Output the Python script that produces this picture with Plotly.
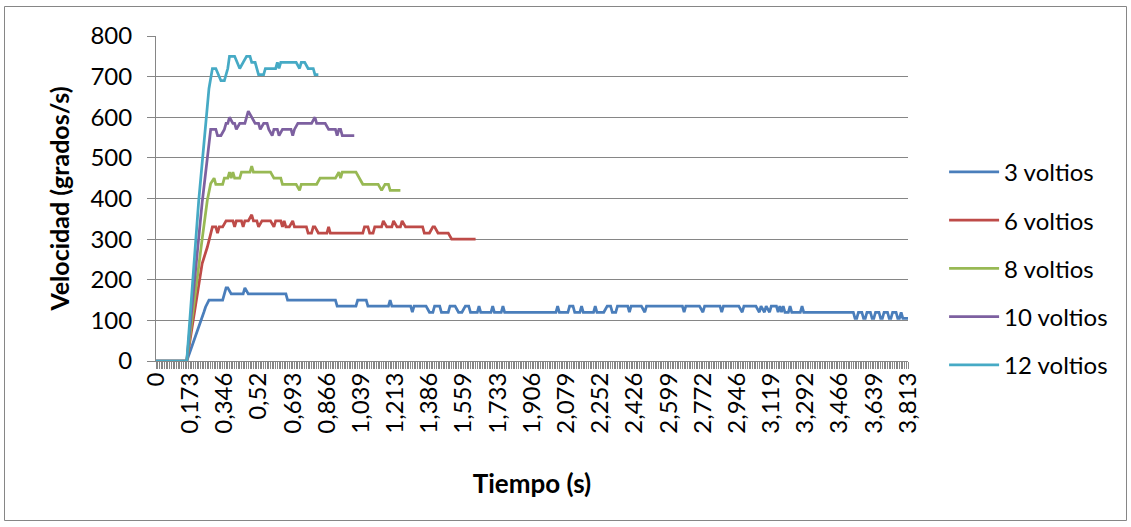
import plotly.graph_objects as go

# Sample number (one sample every ~8.67 ms) and angular speed in grados/s.
# Each series is given by the samples where its trace changes direction.
muestra_3v = [0, 18, 28, 29, 31, 39, 41, 42, 44, 51, 52, 54, 76, 77, 105, 106, 117, 118, 123, 124,
              136, 137, 138, 149, 150, 151, 158, 160, 162, 163, 166, 167, 171, 172, 175, 177, 179, 181,
              183, 184, 188, 189, 190, 196, 197, 198, 202, 203, 204, 234, 235, 236, 241, 242, 244, 245,
              248, 249, 250, 256, 257, 258, 262, 264, 266, 267, 269, 270, 276, 277, 278, 284, 286, 287,
              308, 309, 310, 318, 320, 321, 330, 331, 332, 341, 343, 344, 351, 353, 354, 356, 357, 359,
              360, 363, 364, 365, 366, 367, 368, 370, 371, 372, 377, 378, 379, 408, 409, 410, 411, 413,
              414, 415, 416, 418, 419, 420, 421, 423, 424, 425, 426, 428, 429, 430, 431, 433, 434, 435,
              436, 437, 440]
vel_3v = [0, 0, 120, 133, 150, 150, 180, 180, 165, 165, 180, 165, 165, 150, 150, 135, 135, 150, 150, 135,
          135, 150, 135, 135, 120, 135, 135, 120, 120, 135, 135, 120, 120, 135, 135, 120, 120, 135,
          135, 120, 120, 135, 120, 120, 135, 120, 120, 135, 120, 120, 135, 120, 120, 135, 135, 120,
          120, 135, 120, 120, 135, 120, 120, 135, 135, 120, 120, 135, 135, 120, 135, 135, 120, 135,
          135, 120, 135, 135, 120, 135, 135, 120, 135, 135, 120, 135, 135, 120, 135, 120, 135, 120,
          135, 135, 120, 135, 120, 135, 120, 120, 135, 120, 120, 135, 120, 120, 105, 105, 120, 120,
          105, 105, 120, 120, 105, 105, 120, 120, 105, 105, 120, 120, 105, 105, 120, 120, 105, 105,
          120, 105, 105]

muestra_6v = [0, 18, 27, 30, 32, 33, 35, 36, 37, 39, 41, 45, 46, 47, 50, 51, 52, 54, 56, 57, 59, 60, 62,
              67, 69, 70, 73, 74, 75, 76, 78, 80, 81, 88, 89, 91, 92, 93, 95, 100, 101, 102, 121, 122,
              124, 125, 127, 128, 132, 133, 135, 138, 139, 141, 143, 144, 146, 156, 157, 160, 162, 163,
              165, 171, 173, 187]
vel_6v = [0, 0, 240, 280, 313, 330, 330, 315, 330, 330, 345, 345, 330, 345, 345, 330, 345, 345, 360, 345,
          345, 330, 345, 345, 330, 345, 345, 330, 345, 330, 330, 345, 330, 330, 315, 315, 330, 330, 315,
          315, 330, 315, 315, 330, 330, 315, 315, 330, 330, 345, 330, 330, 345, 330, 330, 345, 330, 330,
          315, 315, 330, 330, 315, 315, 300, 300]

muestra_8v = [0, 18, 27, 30, 32, 34, 35, 39, 40, 42, 43, 44, 45, 46, 49, 50, 55, 56, 57, 67, 69, 73, 74,
              82, 84, 85, 94, 96, 105, 107, 108, 109, 117, 119, 121, 130, 132, 134, 136, 137, 143]
vel_8v = [0, 0, 300, 395, 437, 450, 435, 435, 450, 450, 465, 450, 465, 450, 450, 465, 465, 480, 465, 465,
          450, 450, 435, 435, 420, 435, 435, 450, 450, 465, 450, 465, 465, 450, 435, 435, 420, 435, 435,
          420, 420]

muestra_10v = [0, 18, 27, 31, 32, 35, 36, 38, 40, 41, 42, 43, 45, 46, 47, 49, 52, 54, 56, 58, 60, 61, 63,
               65, 66, 68, 69, 71, 72, 74, 79, 80, 81, 83, 91, 93, 94, 99, 101, 105, 106, 107, 108, 109,
               116]
vel_10v = [0, 0, 390, 544, 570, 570, 555, 555, 570, 585, 585, 600, 585, 585, 570, 585, 585, 615, 600, 585,
           585, 570, 585, 585, 570, 555, 570, 570, 555, 570, 570, 555, 570, 585, 585, 600, 585, 585, 570,
           570, 555, 570, 570, 555, 555]

muestra_12v = [0, 18, 25, 28, 31, 33, 35, 38, 40, 42, 43, 46, 49, 51, 53, 55, 56, 58, 60, 63, 64, 70, 71,
               72, 73, 82, 84, 85, 87, 89, 92, 93, 95]
vel_12v = [0, 0, 395, 543, 671, 720, 720, 690, 690, 720, 750, 750, 720, 735, 750, 750, 735, 735, 705, 705,
           720, 720, 735, 720, 735, 735, 720, 735, 735, 720, 720, 705, 705]

# Category labels shown every 20 samples
etiquetas_tiempo = ["0", "0,173", "0,346", "0,52", "0,693", "0,866", "1,039", "1,213", "1,386",
                    "1,559", "1,733", "1,906", "2,079", "2,252", "2,426", "2,599", "2,772", "2,946",
                    "3,119", "3,292", "3,466", "3,639", "3,813"]
posiciones_etiquetas = [20 * k for k in range(len(etiquetas_tiempo))]

series = [
    ("3 voltios", muestra_3v, vel_3v, "#4A7EBB"),
    ("6 voltios", muestra_6v, vel_6v, "#BE4B48"),
    ("8 voltios", muestra_8v, vel_8v, "#98B954"),
    ("10 voltios", muestra_10v, vel_10v, "#7D60A0"),
    ("12 voltios", muestra_12v, vel_12v, "#46AAC5"),
]

FONT = "Lato, 'Open Sans', sans-serif"
GRIS = "#868686"

fig = go.Figure()
for nombre, xs, ys, color in series:
    fig.add_trace(go.Scatter(
        x=xs, y=ys, mode="lines", name=nombre, legendgroup=nombre,
        line=dict(color=color, width=2.75),
    ))

fig.update_layout(
    width=1131, height=527,
    margin=dict(l=156, r=223, t=36, b=166),
    paper_bgcolor="white", plot_bgcolor="white",
    font=dict(family=FONT, size=24, color="#000000"),
    showlegend=True,
    legend=dict(
        x=1.048, y=0.285, xanchor="left", yanchor="middle",
        font=dict(family=FONT, size=24, color="#000000"),
        itemwidth=50, tracegroupgap=14, bgcolor="rgba(0,0,0,0)",
    ),
    xaxis=dict(
        range=[0, 440], tickmode="array", tickvals=posiciones_etiquetas, ticktext=etiquetas_tiempo,
        tickangle=-90, ticks="outside", ticklen=7, tickcolor=GRIS, tickwidth=1,
        minor=dict(tickmode="linear", tick0=0, dtick=1, ticks="outside", ticklen=7,
                   tickcolor=GRIS, tickwidth=1),
        showline=True, linecolor=GRIS, linewidth=1, showgrid=False, zeroline=False,
        tickfont=dict(family=FONT, size=24), ticklabelstandoff=-6,
        title=dict(text="<b>Tiempo (s)</b>", standoff=42, font=dict(family=FONT, size=26)),
    ),
    yaxis=dict(
        range=[0, 800], dtick=100, ticks="outside", ticklen=8, tickcolor=GRIS, tickwidth=1,
        showline=True, linecolor=GRIS, linewidth=1,
        showgrid=True, gridcolor=GRIS, gridwidth=1, zeroline=False,
        tickfont=dict(family=FONT, size=24), ticklabelstandoff=10,
        title=dict(text="<b>Velocidad (grados/s)</b>", standoff=13, font=dict(family=FONT, size=25)),
    ),
    shapes=[dict(
        type="rect", xref="paper", yref="paper",
        x0=(4.5 - 156) / 752, x1=(1126.5 - 156) / 752,
        y0=(361 - 520.5) / 325, y1=(361 - 6.5) / 325,
        line=dict(color=GRIS, width=1), fillcolor="rgba(0,0,0,0)", layer="below",
    )],
)

fig.write_html("out.html")
